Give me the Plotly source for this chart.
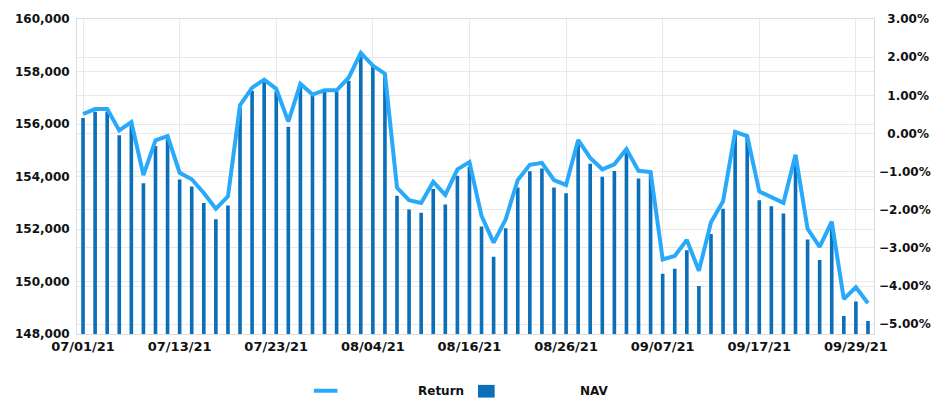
import plotly.graph_objects as go

dates = [
    "07/01/21", "07/02/21", "07/05/21", "07/06/21", "07/07/21", "07/08/21", "07/09/21",
    "07/12/21", "07/13/21", "07/14/21", "07/15/21", "07/16/21",
    "07/19/21", "07/20/21", "07/21/21", "07/22/21", "07/23/21",
    "07/26/21", "07/27/21", "07/28/21", "07/29/21", "07/30/21",
    "08/02/21", "08/03/21", "08/04/21", "08/05/21", "08/06/21",
    "08/09/21", "08/10/21", "08/11/21", "08/12/21", "08/13/21",
    "08/16/21", "08/17/21", "08/18/21", "08/19/21", "08/20/21",
    "08/23/21", "08/24/21", "08/25/21", "08/26/21", "08/27/21",
    "08/30/21", "08/31/21", "09/01/21", "09/02/21", "09/03/21",
    "09/06/21", "09/07/21", "09/08/21", "09/09/21", "09/10/21",
    "09/13/21", "09/14/21", "09/15/21", "09/16/21", "09/17/21",
    "09/20/21", "09/21/21", "09/22/21", "09/23/21", "09/24/21",
    "09/27/21", "09/28/21", "09/29/21", "09/30/21",
]

nav = [
    156225, 156471, 156471, 155576, 156098, 153739, 155166, 155416, 153888, 153616,
    152993, 152371, 152893, 156608, 157261, 157633, 157242, 155900, 157466, 157067,
    157216, 157242, 157652, 158584, 158192, 157902, 153265, 152744, 152621, 153526,
    152930, 154026, 154361, 152099, 150943, 152024, 153579, 154197, 154309, 153579,
    153366, 155229, 154484, 153988, 154212, 155043, 153925, 154175, 150299, 150485,
    151193, 149825, 151812, 152770, 155725, 155539, 153094, 152870, 152594, 154793,
    151603, 150820, 152248, 148681, 149240, 148495,
]

ret = [
    0.51, 0.64, 0.64, 0.08, 0.30, -1.09, -0.18, -0.07, -1.03, -1.20,
    -1.56, -1.97, -1.65, 0.74, 1.20, 1.41, 1.17, 0.31, 1.30, 1.02,
    1.13, 1.13, 1.46, 2.11, 1.78, 1.56, -1.42, -1.75, -1.82, -1.27,
    -1.61, -0.94, -0.75, -2.16, -2.86, -2.25, -1.22, -0.82, -0.77, -1.22,
    -1.35, -0.17, -0.64, -0.94, -0.81, -0.41, -0.98, -1.01, -3.30, -3.21,
    -2.79, -3.60, -2.33, -1.78, 0.04, -0.07, -1.52, -1.67, -1.82, -0.56,
    -2.50, -2.97, -2.31, -4.34, -4.03, -4.45,
]

x_ticks = ["07/01/21", "07/13/21", "07/23/21", "08/04/21", "08/16/21",
           "08/26/21", "09/07/21", "09/17/21", "09/29/21"]
ret_tickvals = [3, 2, 1, 0, -1, -2, -3, -4, -5]
ret_ticktext = ["\u20073.00%", "\u20072.00%", "\u20071.00%", "\u20070.00%",
                "\u22121.00%", "\u22122.00%", "\u22123.00%", "\u22124.00%", "\u22125.00%"]

BAR_COLOR = "#0b6fba"
LINE_COLOR = "#29a9fa"
GRID = "#e9e9e9"
FONT = "DejaVu Sans"

fig = go.Figure()
fig.add_trace(go.Bar(x=dates, y=nav, name="NAV", marker_color=BAR_COLOR,
                     marker_line_width=0, width=0.3, yaxis="y", hoverinfo="skip"))
fig.add_trace(go.Scatter(x=dates, y=ret, name="Return", mode="lines",
                         line=dict(color=LINE_COLOR, width=4), yaxis="y2",
                         hoverinfo="skip"))

L, R, T, B = 77, 55, 12, 68
W, H = 943, 402
pw, ph = W - L - R, H - T - B

def px(xp):
    return (xp - L) / pw

def py(yp):
    return (H - B - yp) / ph

fig.update_layout(
    width=W, height=H, autosize=False,
    margin=dict(l=L, r=R, t=T, b=B, pad=0),
    plot_bgcolor="white", paper_bgcolor="white",
    showlegend=False, hovermode=False,
    font=dict(family=FONT, size=12, color="#111111"),
    xaxis=dict(type="category", range=[-0.5, len(dates) - 0.5],
               tickvals=x_ticks, ticktext=x_ticks,
               showgrid=True, gridcolor=GRID, gridwidth=1,
               showline=True, linecolor="#dcdcdc", mirror=True,
               ticks="", tickfont=dict(family=FONT, size=13, weight="bold"),
               tickangle=0),
    yaxis=dict(range=[148000, 160000], dtick=2000, tickformat=",d",
               showgrid=True, gridcolor=GRID, zeroline=False,
               showline=True, linecolor="#dcdcdc", mirror=True,
               ticks="", ticklabelstandoff=4,
               tickfont=dict(family=FONT, size=12, weight="bold")),
    yaxis2=dict(overlaying="y", side="right", range=[3 - 322 / 39, 3],
                tickvals=ret_tickvals, ticktext=ret_ticktext,
                showgrid=True, gridcolor=GRID, zeroline=False,
                ticks="", ticklabelstandoff=4,
                tickfont=dict(family=FONT, size=12, weight="bold")),
    bargap=0.7,
)

# custom legend
fig.add_shape(type="line", xref="paper", yref="paper",
              x0=px(318), x1=px(342), y0=py(392), y1=py(392),
              line=dict(color=LINE_COLOR, width=4))
fig.add_shape(type="rect", xref="paper", yref="paper",
              x0=px(485), x1=px(502), y0=py(386), y1=py(399),
              fillcolor=BAR_COLOR, line=dict(width=0))
fig.add_annotation(text="<b>Return</b>", xref="paper", yref="paper",
                   x=px(473), y=py(392), xanchor="right", yanchor="middle",
                   showarrow=False, font=dict(family=FONT, size=12, color="#111111"))
fig.add_annotation(text="<b>NAV</b>", xref="paper", yref="paper",
                   x=px(620), y=py(392), xanchor="right", yanchor="middle",
                   showarrow=False, font=dict(family=FONT, size=12, color="#111111"))

fig.write_html("out.html",
               config={"displayModeBar": False, "staticPlot": True},
               post_script="document.body.style.margin='0';document.body.style.padding='0';")
